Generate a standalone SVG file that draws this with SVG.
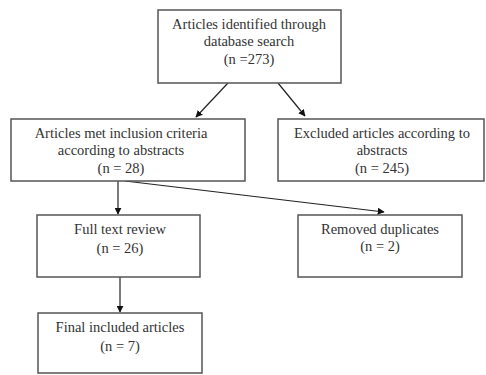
<svg xmlns="http://www.w3.org/2000/svg" width="486" height="375" viewBox="0 0 486 375">
<style>
.box{fill:#fff;stroke:#555;stroke-width:1.5}
text{font-family:"Liberation Serif","Times New Roman",serif;font-size:14.5px;fill:#333;text-anchor:middle}
.c{stroke:#222;stroke-width:1.2;fill:none;marker-end:url(#ah)}
</style>
<defs>
<marker id="ah" viewBox="0 0 10 10" refX="9" refY="5" markerWidth="7" markerHeight="7" orient="auto" markerUnits="userSpaceOnUse">
<path d="M0,0 L10,5 L0,10 z" fill="#111"/>
</marker>
</defs>
<rect width="486" height="375" fill="#fff"/>
<g id="connectors">
<line class="c" x1="228" y1="83" x2="196" y2="117"/>
<line class="c" x1="278" y1="83" x2="305" y2="116"/>
<line class="c" x1="118" y1="181" x2="118" y2="214"/>
<line class="c" x1="125" y1="181" x2="384" y2="212"/>
<line class="c" x1="120" y1="277" x2="120" y2="312"/>
</g>
<g id="n1">
<rect class="box" x="158" y="10" width="183" height="73"/>
<text x="249" y="29">Articles identified through</text>
<text x="249" y="46">database search</text>
<text x="249" y="64">(n =273)</text>
</g>
<g id="n2">
<rect class="box" x="11" y="119" width="234" height="62"/>
<text x="121" y="138">Articles met inclusion criteria</text>
<text x="121" y="155">according to abstracts</text>
<text x="121" y="173">(n = 28)</text>
</g>
<g id="n3">
<rect class="box" x="278" y="119" width="206" height="62"/>
<text x="382" y="138">Excluded articles according to</text>
<text x="382" y="155">abstracts</text>
<text x="382" y="173">(n = 245)</text>
</g>
<g id="n4">
<rect class="box" x="37" y="215" width="163" height="62"/>
<text x="120" y="234">Full text review</text>
<text x="120" y="253">(n = 26)</text>
</g>
<g id="n5">
<rect class="box" x="298" y="215" width="164" height="62"/>
<text x="380" y="234">Removed duplicates</text>
<text x="380" y="251">(n = 2)</text>
</g>
<g id="n6">
<rect class="box" x="38" y="313" width="164" height="60"/>
<text x="120" y="332">Final included articles</text>
<text x="120" y="351">(n = 7)</text>
</g>
</svg>
